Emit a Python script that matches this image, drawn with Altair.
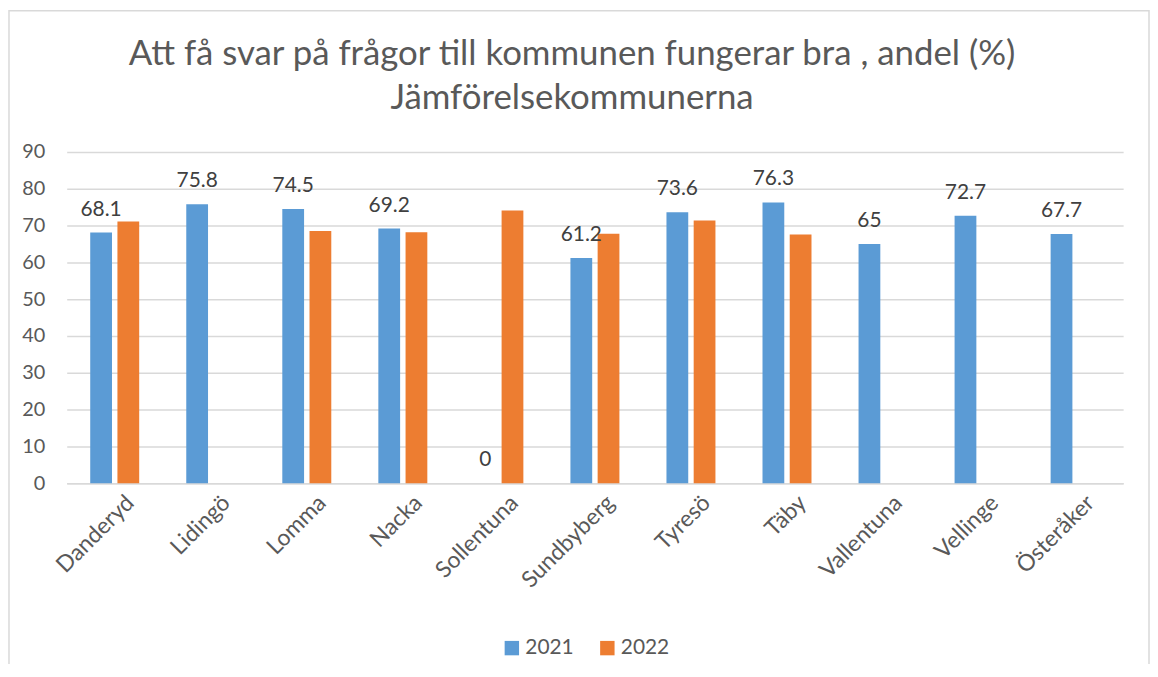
import altair as alt
import pandas as pd

kommuner = ["Danderyd", "Lidingö", "Lomma", "Nacka", "Sollentuna", "Sundbyberg",
            "Tyresö", "Täby", "Vallentuna", "Vellinge", "Österåker"]
v2021 = [68.1, 75.8, 74.5, 69.2, 0, 61.2, 73.6, 76.3, 65, 72.7, 67.7]
v2022 = [71.1, None, 68.5, 68.2, 74.1, 67.8, 71.4, 67.6, None, None, None]
years = ["2021", "2022"]
colors = ["#5B9BD5", "#ED7D31"]
y_ticks = [0, 10, 20, 30, 40, 50, 60, 70, 80, 90]

rows = []
for k, a, b in zip(kommuner, v2021, v2022):
    rows.append({"Kommun": k, "År": "2021", "Värde": a, "Etikett": f"{a:g}"})
    if b is not None:
        rows.append({"Kommun": k, "År": "2022", "Värde": b, "Etikett": f"{b:g}"})
df = pd.DataFrame(rows)

W, H = 1062, 333
FONT = "Lato"
GREY = "#595959"

x_enc = alt.X("Kommun:N", sort=kommuner, title=None,
              scale=alt.Scale(paddingInner=0.49, paddingOuter=0.245),
              axis=alt.Axis(labelAngle=-45, labelFontSize=23, labelColor=GREY,
                            labelFont=FONT, ticks=False, domain=True,
                            domainColor="#d9d9d9", domainWidth=1.5,
                            labelPadding=8, labelOffset=8))
xo_enc = alt.XOffset("År:N", scale=alt.Scale(domain=years, paddingInner=0.2))
y_enc = alt.Y("Värde:Q", title=None,
              scale=alt.Scale(domain=[0, 90], nice=False),
              axis=alt.Axis(values=y_ticks, labelFontSize=20, labelColor=GREY,
                            labelFont=FONT, ticks=False, domain=False,
                            labelOverlap=False,
                            gridColor="#d9d9d9", gridWidth=1.5, labelPadding=22))

base = alt.Chart(df)
bars = base.mark_bar().encode(
    x=x_enc, xOffset=xo_enc, y=y_enc,
    color=alt.Color("År:N", scale=alt.Scale(domain=years, range=colors),
                    legend=alt.Legend(title=None, orient="none", direction="horizontal",
                                      legendX=437, legendY=488, symbolType="square",
                                      symbolSize=210, symbolStrokeWidth=0,
                                      labelFontSize=21, labelColor=GREY,
                                      labelFont=FONT, columnPadding=23,
                                      symbolOffset=0, labelOffset=3)),
)
labels = base.transform_filter("datum['År'] == '2021'").mark_text(
    baseline="alphabetic", dy=-17, fontSize=21, color="#404040", font=FONT
).encode(x=x_enc, xOffset=xo_enc, y=y_enc, text="Etikett:N")

frame = alt.Chart(pd.DataFrame({"a": [0]})).mark_rect(
    fill=None, stroke="#d9d9d9", strokeWidth=1.5, clip=False
).encode(x=alt.value(-58), x2=alt.value(W + 26),
         y=alt.value(-142), y2=alt.value(H + 400))

chart = alt.layer(frame, bars, labels).properties(
    width=W, height=H, background="white",
    title=alt.TitleParams(
        ["Att få svar på frågor till kommunen fungerar bra , andel (%)",
         "Jämförelsekommunerna"],
        fontSize=35, font=FONT, fontWeight="normal", color=GREY,
        anchor="middle", dx=-23, offset=-107, lineHeight=45),
    autosize=alt.AutoSizeParams(type="none"),
    padding={"left": 59, "top": 143, "right": 27, "bottom": 180},
).configure_view(stroke=None)

chart.save("out.html", embed_options={"renderer": "svg", "actions": False})
